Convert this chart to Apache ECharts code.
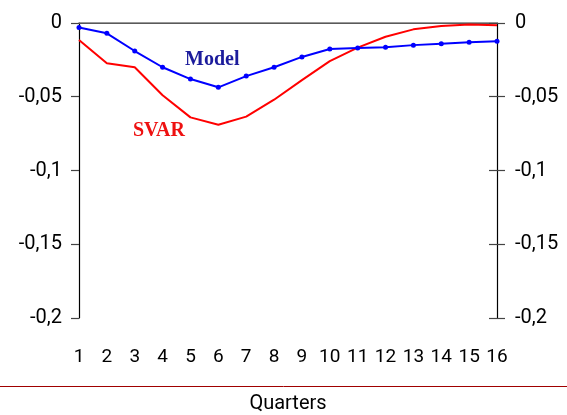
<!DOCTYPE html>
<html><head><meta charset="utf-8">
<script src="https://cdn.jsdelivr.net/npm/echarts@6/dist/echarts.min.js"></script>
<style>html,body{margin:0;padding:0;background:#fff}#c{width:567px;height:415px}</style>
</head><body><div id="c"></div>
<script>
var quarters = ['1','2','3','4','5','6','7','8','9','10','11','12','13','14','15','16'];
var modelValues = [-0.003,-0.007,-0.019,-0.030,-0.038,-0.0436,-0.036,-0.030,-0.023,-0.0176,-0.017,-0.0165,-0.015,-0.014,-0.013,-0.0124];
var svarValues = [-0.0115,-0.0273,-0.030,-0.049,-0.064,-0.069,-0.0635,-0.052,-0.0387,-0.0258,-0.0167,-0.0093,-0.0043,-0.002,-0.001,-0.0015];
var yTickLabels = {'0':'0','-0.05':'-0,05','-0.1':'-0,1','-0.15':'-0,15','-0.2':'-0,2'};

var FONT = '"Liberation Sans Narrow","Roboto",sans-serif';
function fmt(v){ var k = String(+v.toFixed(2)); return yTickLabels[k] !== undefined ? yTickLabels[k] : k.replace('.', ','); }
var chart = echarts.init(document.getElementById('c'));
var yBase = {type:'value', min:-0.2, max:0, interval:0.05, splitLine:{show:false}};
chart.setOption({
  animation:false,
  grid:{left:79,right:70,top:23,bottom:97,containLabel:false,outerBoundsMode:'none'},
  xAxis:[{type:'category', data:quarters, boundaryGap:false,
    axisLine:{lineStyle:{color:'#000',width:1.2}}, axisTick:{show:false},
    axisLabel:{color:'#000',fontSize:19,fontFamily:FONT,margin:30,interval:0,hideOverlap:false},
    name:'Quarters', nameLocation:'middle', nameGap:76,
    nameTextStyle:{color:'#000',fontSize:20,fontFamily:FONT}},
   {type:'category', data:quarters, boundaryGap:false, position:'top',
    axisLine:{lineStyle:{color:'#777',width:1.5}}, axisTick:{show:false}, axisLabel:{show:false}}],
  yAxis:[Object.assign({position:'left', axisLine:{show:true,lineStyle:{color:'#000',width:1.2}},
      axisTick:{show:true,length:8,lineStyle:{color:'#444',width:1.2}},
      axisLabel:{color:'#000',fontSize:20,fontFamily:FONT,margin:17,formatter:fmt}}, yBase),
    Object.assign({position:'right', axisLine:{show:true,lineStyle:{color:'#000',width:1.2}},
      axisTick:{show:true,length:8,lineStyle:{color:'#444',width:1.2}},
      axisLabel:{color:'#000',fontSize:20,fontFamily:FONT,margin:18,formatter:fmt}}, yBase),
    Object.assign({position:'right', axisLine:{show:false},
      axisTick:{show:true,inside:true,length:8,lineStyle:{color:'#444',width:1.2}},
      axisLabel:{show:false}}, yBase)],
  series:[
    {name:'SVAR', type:'line', data:svarValues, showSymbol:false, symbol:'none',
     lineStyle:{color:'#ff0000',width:2}, itemStyle:{color:'#ff0000'}, z:2},
    {name:'Model', type:'line', data:modelValues, symbol:'circle', symbolSize:5,
     lineStyle:{color:'#0000ff',width:2}, itemStyle:{color:'#0000ff'}, z:3}
  ],
  graphic:[
    {type:'line', shape:{x1:0,y1:386.5,x2:567,y2:386.5}, style:{stroke:'#a00000',lineWidth:1}},
    {type:'text', left:185, top:50, style:{text:'Model', fill:'#1c1c9c', font:'bold 20px "Liberation Serif",serif'}},
    {type:'text', left:133, top:121, style:{text:'SVAR', fill:'#ee1111', font:'bold 20px "Liberation Serif",serif'}}
  ]
});
</script></body></html>
